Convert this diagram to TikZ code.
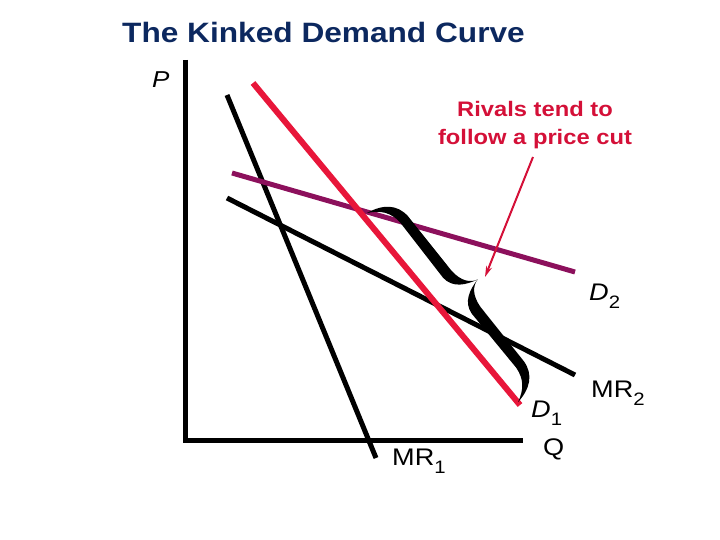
\documentclass[tikz,border=0pt]{standalone}
\usepackage{fontspec}
\setmainfont{Liberation Sans}
\usetikzlibrary{arrows.meta}
\definecolor{titleblue}{RGB}{12,40,95}
\definecolor{demred}{RGB}{232,22,58}
\definecolor{txtred}{RGB}{212,16,56}
\definecolor{dpurple}{RGB}{140,16,92}
\newcommand{\sx}[1]{\scalebox{1.13}[1]{#1}}
\newcommand{\subs}[1]{\raisebox{-8pt}{\fontsize{18}{18}\selectfont #1}}
\begin{document}
\begin{tikzpicture}[x=1pt,y=-1pt,
  axisline/.style={line width=5pt, line join=miter, black},
  blackcurve/.style={line width=5pt, black},
  redcurve/.style={line width=6pt, demred},
  purplecurve/.style={line width=5pt, dpurple},
  lbl/.style={inner sep=0pt, anchor=base west, font=\fontsize{24}{28}\selectfont},
  redtxt/.style={inner sep=0pt, anchor=base, text=txtred, font=\fontsize{21}{26}\selectfont\bfseries},
  pointer/.style={txtred, line width=2pt, -{Stealth[length=11pt,width=6pt]}}
]
\useasboundingbox (0,0) rectangle (720,540);

% title
\node[inner sep=0pt, anchor=base west, text=titleblue, font=\fontsize{28}{32}\selectfont\bfseries] (title) at (122,43) {\sx{The Kinked Demand Curve}};

% axes
\coordinate (ytop) at (185.5,60);
\coordinate (origin) at (185.5,440.5);
\coordinate (xend) at (523,440.5);
\draw[axisline] (ytop) -- (origin) -- (xend);

% curves
\coordinate (mra) at (227,95);
\coordinate (mrb) at (376,458);
\coordinate (mrtwoa) at (227,198);
\coordinate (mrtwob) at (575,375);
\coordinate (dtwoa) at (232,173);
\coordinate (dtwob) at (575,272);
\coordinate (donea) at (253,83);
\coordinate (doneb) at (520,405);
\draw[blackcurve] (mra) -- (mrb);
\draw[blackcurve] (mrtwoa) -- (mrtwob);
\draw[purplecurve] (dtwoa) -- (dtwob);
\draw[redcurve] (donea) -- (doneb);

% brace
\begin{scope}[shift={(367,213)}, x={(0.6242pt,-0.7813pt)}, y={(0.7813pt,0.6242pt)}]
\fill[black] (0,0) .. controls (3,18) and (12,29) .. (28,30) -- (98,30)
  .. controls (112,31) and (119,37) .. (121,45)
  .. controls (123,37) and (130,31) .. (144,30) -- (214,30)
  .. controls (230,29) and (239,18) .. (242,0)
  .. controls (236,12) and (228,19) .. (214,20) -- (144,19)
  .. controls (130,20) and (124,32) .. (121,45)
  .. controls (118,32) and (112,20) .. (98,19) -- (28,20)
  .. controls (14,19) and (6,12) .. (0,0) -- cycle;
\end{scope}

% annotation
\node[redtxt] (rivalsA) at (535,117) {\sx{Rivals tend to}};
\node[redtxt] (rivalsB) at (535,145) {\sx{follow a price cut}};
\coordinate (arrowtail) at (533,157);
\coordinate (arrowtip) at (485,277);
\draw[pointer] (arrowtail) -- (arrowtip);

% labels
\node[lbl, font=\fontsize{23}{26}\selectfont\itshape] (plbl) at (152,88) {\sx{P}};
\node[lbl] (dtwolbl) at (589,300) {\sx{\textit{D}\subs{2}}};
\node[lbl] (mrtwolbl) at (591,397) {\sx{MR\subs{2}}};
\node[lbl] (mronelbl) at (392,465) {\sx{MR\subs{1}}};
\node[lbl] (donelbl) at (531,417) {\sx{\textit{D}\subs{1}}};
\node[lbl] (qlbl) at (543,455) {\sx{Q}};
\end{tikzpicture}
\end{document}
